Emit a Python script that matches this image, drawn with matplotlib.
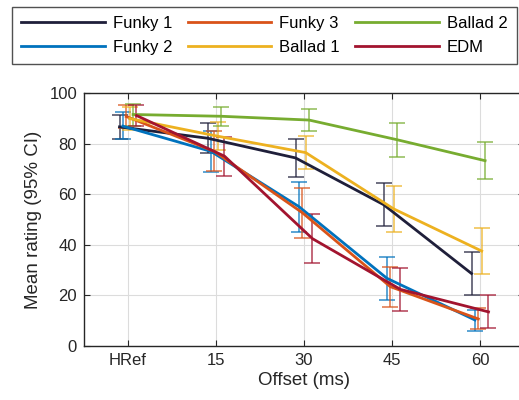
import matplotlib
matplotlib.use("Agg")
import matplotlib.pyplot as plt
import numpy as np

plt.rcParams['font.family'] = ['Liberation Sans', 'DejaVu Sans']

categories = ["HRef", "15", "30", "45", "60"]
series_names = ["Funky 1", "Funky 2", "Funky 3", "Ballad 1", "Ballad 2", "EDM"]
colors = ["#1f1f3a", "#0072BD", "#D95319", "#EDB120", "#77AC30", "#A2142F"]

funky1_mean = [86.7, 82.2, 74.4, 55.9, 28.6]
funky1_lo = [81.9, 76.2, 67.0, 47.4, 20.1]
funky1_hi = [91.5, 88.1, 81.8, 64.3, 37.2]

funky2_mean = [87.0, 77.0, 55.1, 26.7, 10.2]
funky2_lo = [81.9, 68.9, 45.2, 18.1, 5.9]
funky2_hi = [92.7, 85.2, 65.0, 35.3, 14.1]

funky3_mean = [90.8, 77.0, 52.7, 23.4, 10.6]
funky3_lo = [86.3, 69.3, 42.8, 15.5, 6.5]
funky3_hi = [95.4, 85.0, 62.6, 31.3, 14.8]

ballad1_mean = [90.0, 83.0, 76.5, 54.2, 37.5]
ballad1_lo = [85.5, 77.5, 70.0, 45.2, 28.3]
ballad1_hi = [94.7, 88.5, 83.1, 63.3, 46.8]

ballad2_mean = [91.6, 90.9, 89.4, 81.6, 73.3]
ballad2_lo = [87.2, 87.0, 85.1, 74.9, 66.0]
ballad2_hi = [95.8, 94.7, 93.8, 88.4, 80.6]

edm_mean = [91.2, 75.1, 42.4, 22.3, 13.4]
edm_lo = [87.0, 67.4, 32.6, 13.9, 6.9]
edm_hi = [95.4, 82.8, 52.2, 30.7, 20.0]

means = [funky1_mean, funky2_mean, funky3_mean, ballad1_mean, ballad2_mean, edm_mean]
los = [funky1_lo, funky2_lo, funky3_lo, ballad1_lo, ballad2_lo, edm_lo]
his = [funky1_hi, funky2_hi, funky3_hi, ballad1_hi, ballad2_hi, edm_hi]

fig = plt.figure(figsize=(5.19, 4.0), dpi=100)
ax = fig.add_axes([84/519, 1-345.7/400, 440/519, (345.7-93.3)/400])

x = np.arange(1, len(categories)+1)
step = 0.0386
handles = []
for i, (name, c) in enumerate(zip(series_names, colors)):
    m = np.array(means[i]); lo = np.array(los[i]); hi = np.array(his[i])
    xs = x + (i - 2.5) * step
    ax.errorbar(xs, m, yerr=[m - lo, hi - m], fmt='none', ecolor=c, elinewidth=1.2,
                capsize=5.5, capthick=1.2, alpha=0.75, zorder=2)
    h, = ax.plot(xs, m, color=c, lw=2.0, zorder=3, label=name)
    handles.append(h)

ax.set_xlim(0.5, 5.5)
ax.set_ylim(0, 100)
ax.set_xticks(x)
ax.set_xticklabels(categories)
ax.set_yticks([0, 20, 40, 60, 80, 100])
ax.grid(True, color='#dcdcdc', lw=0.8)
ax.set_axisbelow(True)
ax.tick_params(direction='in', top=True, right=True, labelsize=12, colors='#262626',
               length=4, labelcolor='#262626', pad=5)
for s in ax.spines.values():
    s.set_color('#262626')
    s.set_linewidth(1.0)
ax.set_xlabel("Offset (ms)", fontsize=13.5, color='#262626', labelpad=3)
ax.set_ylabel("Mean rating (95% CI)", fontsize=13.5, color='#262626', labelpad=5)

leg = fig.legend(handles=handles, ncol=3, loc='upper left',
                 bbox_to_anchor=(12/519, 1-7/400, 505/519, 0.0001), mode='expand',
                 fontsize=12, handlelength=5.0, frameon=True, fancybox=False,
                 edgecolor='#262626', borderaxespad=0, columnspacing=1.0,
                 handletextpad=0.5, labelspacing=0.55, borderpad=0.55)
leg.get_frame().set_linewidth(1.0)

fig.savefig("out.png", dpi=100)
